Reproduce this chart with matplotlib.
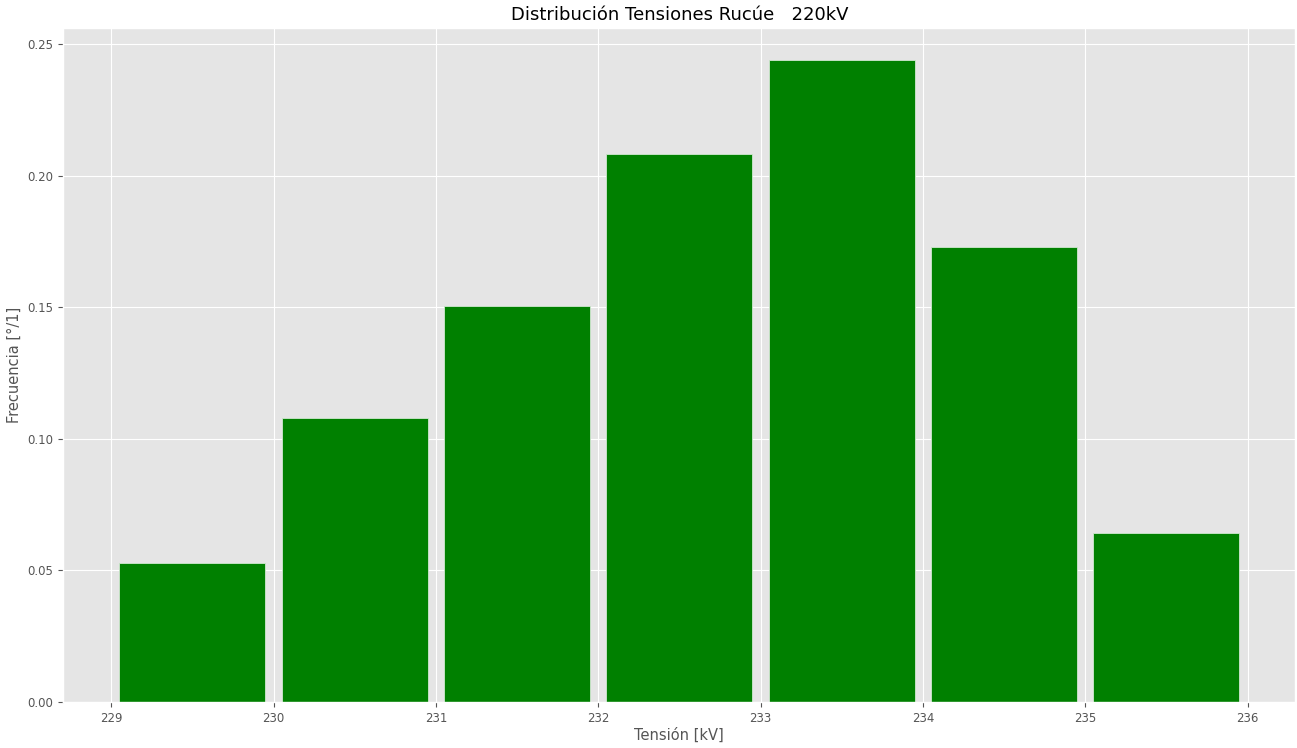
import numpy as np
import matplotlib
matplotlib.use("Agg")
import matplotlib.pyplot as plt

plt.style.use("ggplot")

# bin edges (kV) and normalised frequency per bin
bin_left = [229, 230, 231, 232, 233, 234, 235]
freq = [0.0528, 0.1079, 0.1505, 0.2082, 0.2439, 0.1729, 0.0642]

fig = plt.figure(figsize=(12.97, 7.48), dpi=100)
ax = fig.add_axes([0.0488, 0.0615, 0.9500, 0.9011])

centers = np.array(bin_left) + 0.5
ax.bar(centers, freq, width=0.9, color="green", edgecolor="#d0e8d0", linewidth=0.6)

ax.set_title("Distribución Tensiones Rucúe   220kV", fontsize=13, color="black")
ax.set_xlabel("Tensión [kV]", fontsize=10.5, labelpad=2)
ax.set_ylabel("Frecuencia [°/1]", fontsize=10.5)
ax.tick_params(labelsize=8.5)
ax.set_yticks([0.0, 0.05, 0.10, 0.15, 0.20, 0.25])

fig.savefig("out.png", dpi=100)
